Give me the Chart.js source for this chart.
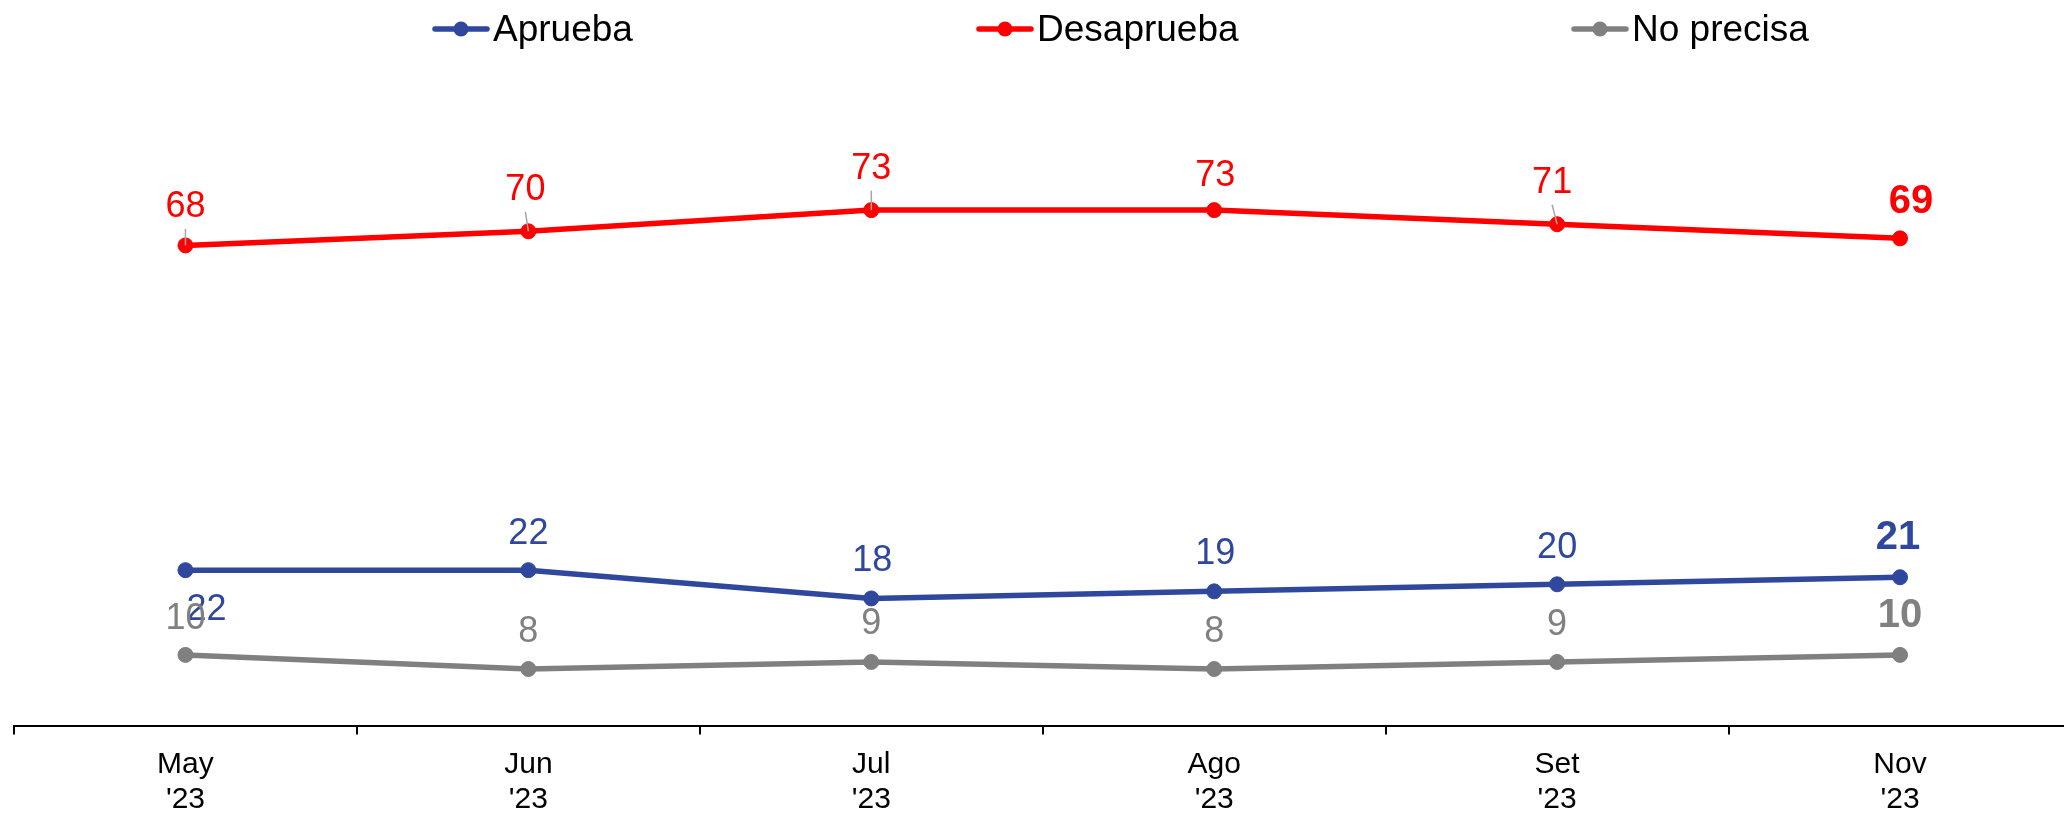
<!DOCTYPE html>
<html>
<head>
<meta charset="utf-8">
<script src="https://cdn.jsdelivr.net/npm/chart.js@4"></script>
<style>
  html, body { margin: 0; padding: 0; background: #fff; overflow: hidden; }
  #wrap { position: relative; width: 2064px; height: 815px; overflow: hidden; }
  #grafico { position: absolute; left: 0; top: 0; }
</style>
</head>
<body>
<!-- el lienzo es algo más ancho que la ventana: el eje continúa más allá del borde derecho -->
<div id="wrap"><canvas id="grafico" width="2080" height="815"></canvas></div>
<script>
// Datos
const meses = [['May', "'23"], ['Jun', "'23"], ['Jul', "'23"], ['Ago', "'23"], ['Set', "'23"], ['Nov', "'23"]];
const aprueba = [22, 22, 18, 19, 20, 21];
const desaprueba = [68, 70, 73, 73, 71, 69];
const noPrecisa = [10, 8, 9, 8, 9, 10];

const colores = { aprueba: '#2f479d', desaprueba: '#ff0000', noPrecisa: '#808080' };
const fuente = '"Liberation Sans", Arial, sans-serif';

// Desplazamiento de etiquetas [dx, dy de la línea base respecto al punto]
const desplazamientos = [
    [[0, -28], [-3, -31], [0, -31], [1, -24], [-5, -31], [11, -25]],  // desaprueba
    [[21, 50], [0, -26], [1, -27], [1, -27], [0, -26], [-2, -28]],    // aprueba
    [[0, -26], [0, -27], [0, -28], [0, -27], [0, -27], [0, -28]]      // no precisa
];
// Líneas guía (solo algunas etiquetas de desaprueba)
const conGuia = [[0, 1, 2, 4], [], []];

// Etiquetas de datos
const etiquetasPlugin = {
    id: 'etiquetas',
    afterDatasetsDraw(chart) {
        const ctx = chart.ctx;
        ctx.save();
        chart.data.datasets.forEach((ds, di) => {
            const meta = chart.getDatasetMeta(di);
            meta.data.forEach((pt, i) => {
                const [dx, dy] = desplazamientos[di][i];
                const ultimo = i === ds.data.length - 1;
                if (conGuia[di].includes(i)) {
                    ctx.strokeStyle = '#a6a6a6';
                    ctx.lineWidth = 1.5;
                    ctx.beginPath();
                    ctx.moveTo(pt.x + dx, pt.y + dy + 11.5);
                    ctx.lineTo(pt.x, pt.y);
                    ctx.stroke();
                }
                ctx.fillStyle = ds.borderColor;
                ctx.font = ultimo ? 'bold 40px ' + fuente : '36px ' + fuente;
                ctx.textAlign = 'center';
                ctx.textBaseline = 'alphabetic';
                ctx.fillText(String(ds.data[i]), pt.x + dx, pt.y + dy);
            });
        });
        ctx.restore();
    }
};

// Leyenda dibujada a mano para respetar las posiciones originales
const leyendaX = [433, 977, 1572];
const leyendaPlugin = {
    id: 'leyendaManual',
    afterDraw(chart) {
        const ctx = chart.ctx;
        ctx.save();
        const orden = [1, 0, 2];
        orden.forEach((di, k) => {
            const ds = chart.data.datasets[di];
            const x = leyendaX[k];
            const y = 29;
            ctx.strokeStyle = ds.borderColor;
            ctx.lineWidth = 5.5;
            ctx.lineCap = 'round';
            ctx.beginPath();
            ctx.moveTo(x + 2, y);
            ctx.lineTo(x + 54, y);
            ctx.stroke();
            ctx.fillStyle = ds.borderColor;
            ctx.beginPath();
            ctx.arc(x + 28, y, 7.5, 0, Math.PI * 2);
            ctx.fill();
            ctx.fillStyle = '#000';
            ctx.font = '37px ' + fuente;
            ctx.textAlign = 'left';
            ctx.textBaseline = 'alphabetic';
            ctx.fillText(ds.label, x + 60, 41);
        });
        ctx.restore();
    }
};

function serie(label, data, color) {
    return {
        label: label,
        data: data,
        borderColor: color,
        backgroundColor: color,
        borderWidth: 5.5,
        pointRadius: 7.5,
        pointBorderWidth: 1,
        pointBackgroundColor: color,
        pointBorderColor: color,
        tension: 0,
        clip: false
    };
}

new Chart(document.getElementById('grafico').getContext('2d'), {
    type: 'line',
    data: {
        labels: meses,
        datasets: [
            serie('Desaprueba', desaprueba, colores.desaprueba),
            serie('Aprueba', aprueba, colores.aprueba),
            serie('No precisa', noPrecisa, colores.noPrecisa)
        ]
    },
    options: {
        responsive: false,
        animation: false,
        devicePixelRatio: 1,
        layout: { padding: { left: 14, right: 0, top: 19.5, bottom: 0 } },
        plugins: {
            legend: { display: false },
            tooltip: { enabled: false }
        },
        scales: {
            x: {
                offset: true,
                afterFit: (scale) => { scale.height = 89.5; },
                border: { display: true, color: '#000', width: 2 },
                grid: {
                    offset: true,
                    drawOnChartArea: false,
                    drawTicks: true,
                    tickLength: 9,
                    color: '#000',
                    lineWidth: 2
                },
                ticks: {
                    color: '#000',
                    padding: 12.5,
                    maxRotation: 0,
                    autoSkip: false,
                    font: { family: fuente, size: 30, lineHeight: 35 / 30 }
                }
            },
            y: {
                display: false,
                min: 0,
                max: 100
            }
        }
    },
    plugins: [etiquetasPlugin, leyendaPlugin]
});
</script>
</body>
</html>
